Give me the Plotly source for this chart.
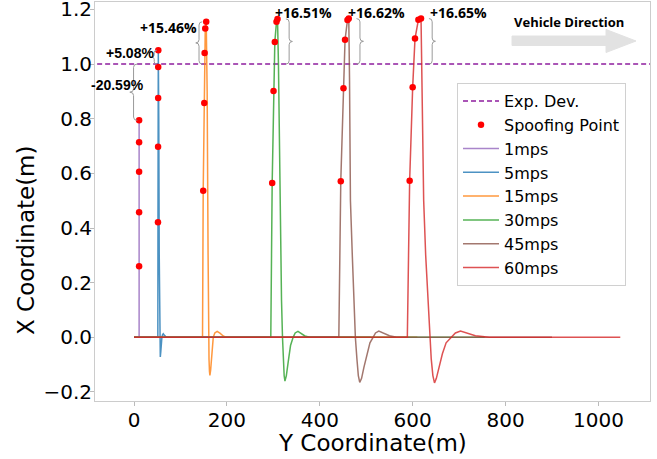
import plotly.graph_objects as go

# ---------------- data ----------------
labels = ["1mps", "5mps", "15mps", "30mps", "45mps", "60mps"]
colors = ["#9467bd", "#1f77b4", "#ff7f0e", "#2ca02c", "#8c564b", "#d62728"]

exp_dev_x = [-200, 1300]
exp_dev_y = [1.0, 1.0]

x_1mps = [0, 11, 11, 11, 11, 11, 11, 11, 470]
y_1mps = [0, 0, 0.260, 0.458, 0.606, 0.714, 0.7941, 0, 0]

x_5mps = [0, 51.3, 51.6, 51.8, 52.0, 52.1, 52.3, 53.3, 54.3, 55.0, 55.8, 56.6, 57.8, 59.0, 60.0, 61.5, 63.0, 65.0, 67.5, 70.0, 510]
y_5mps = [0, 0, 0.421, 0.697, 0.876, 0.989, 1.0508, 0.80, 0.30, 0.0, -0.05, -0.072, -0.05, -0.01, 0.0, 0.010, 0.013, 0.008, 0.002, 0, 0]

x_15mps = [0, 147.5, 149.0, 151.3, 152.0, 153.4, 155.5, 157.5, 159.5, 160.3, 161.5, 162.5, 163.4, 165.0, 167.0, 169.0, 170.6, 174.0, 179.0, 185.0, 192.0, 199.0, 610]
y_15mps = [0, 0, 0.536, 0.857, 1.04, 1.13, 1.1546, 0.90, 0.30, 0.0, -0.08, -0.125, -0.139, -0.12, -0.07, -0.02, 0.0, 0.016, 0.022, 0.015, 0.005, 0, 0]

x_30mps = [0, 294.5, 297.5, 300.4, 303.2, 306.8, 309.0, 311.0, 314.0, 317.6, 319.7, 321.5, 323.3, 325.0, 328.0, 332.0, 337.0, 342.6, 347.0, 353.0, 360.0, 368.0, 378.0, 755]
y_30mps = [0, 0, 0.565, 0.901, 1.081, 1.155, 1.1651, 1.0, 0.5, 0.135, 0.0, -0.08, -0.14, -0.160, -0.14, -0.09, -0.03, 0.0, 0.016, 0.022, 0.015, 0.005, 0, 0]

x_45mps = [0, 441.0, 445.2, 451.0, 454.4, 459.6, 462.4, 464.0, 466.0, 470.0, 473.0, 476.6, 480.0, 483.0, 486.0, 490.0, 495.0, 502.0, 508.0, 514.7, 520.0, 527.0, 537.0, 550.0, 565.0, 900]
y_45mps = [0, 0, 0.571, 0.911, 1.089, 1.161, 1.1662, 0.95, 0.5, 0.3, 0.135, 0.0, -0.08, -0.14, -0.165, -0.15, -0.11, -0.06, -0.02, 0.0, 0.016, 0.023, 0.016, 0.006, 0, 0]

x_60mps = [0, 588.5, 593.5, 600.0, 605.0, 612.3, 618.0, 620.0, 623.7, 628.0, 633.0, 636.6, 640.0, 643.5, 647.0, 651.0, 657.0, 664.0, 672.0, 683.0, 692.0, 703.0, 716.0, 735.0, 765.0, 1047]
y_60mps = [0, 0, 0.573, 0.915, 1.093, 1.162, 1.1665, 0.95, 0.5, 0.3, 0.135, 0.0, -0.08, -0.14, -0.167, -0.15, -0.11, -0.06, -0.02, 0.0, 0.016, 0.023, 0.016, 0.006, 0, 0]

spoof_x = [11, 11, 11, 11, 11,
           51.6, 51.8, 52.0, 52.1, 52.3,
           149.0, 151.3, 152.0, 153.4, 155.5,
           297.5, 300.4, 303.2, 306.8, 309.0,
           445.2, 451.0, 454.4, 459.6, 462.4,
           593.5, 600.0, 605.0, 612.3, 618.0]
spoof_y = [0.260, 0.458, 0.606, 0.714, 0.7941,
           0.421, 0.697, 0.876, 0.989, 1.0508,
           0.536, 0.857, 1.04, 1.13, 1.1546,
           0.565, 0.901, 1.081, 1.155, 1.1651,
           0.571, 0.911, 1.089, 1.161, 1.1662,
           0.573, 0.915, 1.093, 1.162, 1.1665]

series_x = [x_1mps, x_5mps, x_15mps, x_30mps, x_45mps, x_60mps]
series_y = [y_1mps, y_5mps, y_15mps, y_30mps, y_45mps, y_60mps]

x_ticks = [0, 200, 400, 600, 800, 1000]
y_ticks = [-0.2, 0.0, 0.2, 0.4, 0.6, 0.8, 1.0, 1.2]

# ---------------- style / layout positions ----------------
brace_pos = [(7, -9), (49, 38), (147, 133), (327, 341), (479, 494), (635, 649)]
label_pos = [(-36, 0.922), (-8, 1.040), (74, 1.134), (365, 1.190), (523, 1.190), (698, 1.190)]

TOP, BOT, LEFT, RIGHT = 2, 58, 95, 7
PLOT_W = 657 - LEFT - RIGHT
PLOT_H = 459 - TOP - BOT

fig = go.Figure()

fig.add_trace(go.Scatter(
    x=exp_dev_x, y=exp_dev_y, mode="lines", name="Exp. Dev.",
    line=dict(color="#8e1e9e", width=1.5, dash="5px,3px"), legendrank=1))

for i, (lab, col) in enumerate(zip(labels, colors)):
    fig.add_trace(go.Scatter(
        x=series_x[i], y=series_y[i], mode="lines", name=lab,
        line=dict(color=col, width=1.5), opacity=0.8, legendrank=3 + i))

fig.add_trace(go.Scatter(
    x=spoof_x, y=spoof_y, mode="markers", name="Spoofing Point",
    marker=dict(color="#ff0000", size=6.5), legendrank=2))

shapes = []
annotations = []
for i in range(len(labels)):
    peak = max(series_y[i])
    y0, y1 = exp_dev_y[0], peak
    lo, hi = min(y0, y1), max(y0, y1)
    hx, tx = brace_pos[i]
    xm = (hx + tx) / 2
    ym = (lo + hi) / 2
    d = min(0.012, (hi - lo) / 6)
    path = (f"M {hx},{hi} Q {xm},{hi} {xm},{hi - d} L {xm},{ym + d} "
            f"Q {xm},{ym} {tx},{ym} Q {xm},{ym} {xm},{ym - d} "
            f"L {xm},{lo + d} Q {xm},{lo} {hx},{lo}")
    shapes.append(dict(type="path", path=path, xref="x", yref="y",
                       line=dict(color="#9a9a9a", width=1)))
    pct = (peak - exp_dev_y[0]) * 100
    txt = f"<b>{pct:+.2f}%</b>"
    if i < 2:
        font = dict(family="Liberation Sans Narrow, Liberation Sans, Arial", size=14, color="black")
    else:
        font = dict(family="Open Sans, Liberation Sans, Arial", size=14, color="black")
    annotations.append(dict(x=label_pos[i][0], y=label_pos[i][1], xref="x", yref="y",
                            xanchor="center", yanchor="middle",
                            text=txt, showarrow=False, font=font))


def px2paper(px, py):
    return (px - LEFT) / PLOT_W, 1 - (py - TOP) / PLOT_H


# Vehicle direction arrow
pts = [(512, 36), (606, 36), (606, 29.5), (636, 41), (606, 52.5), (606, 45.5), (512, 45.5)]
pp = [px2paper(a, b) for a, b in pts]
arrow_path = "M " + " L ".join(f"{a},{b}" for a, b in pp) + " Z"
shapes.append(dict(type="path", path=arrow_path, xref="paper", yref="paper",
                   fillcolor="#e2e2e2", line=dict(color="#e2e2e2", width=1)))
vx, vy = px2paper(568.5, 22.5)
annotations.append(dict(x=vx, y=vy, xref="paper", yref="paper", showarrow=False,
                        xanchor="center", yanchor="middle",
                        text="<b>Vehicle Direction</b>",
                        font=dict(family="Open Sans, Liberation Sans, Arial", size=13, color="black")))

# axis titles
tx_, ty_ = px2paper(372, 443)
annotations.append(dict(x=tx_, y=ty_, xref="paper", yref="paper", showarrow=False,
                        text="Y Coordinate(m)", xanchor="center", yanchor="middle",
                        font=dict(family="DejaVu Sans", size=23, color="black")))
tx2, ty2 = px2paper(26, 240)
annotations.append(dict(x=tx2, y=ty2, xref="paper", yref="paper", showarrow=False,
                        text="X Coordinate(m)", textangle=-90, xanchor="center", yanchor="middle",
                        font=dict(family="DejaVu Sans", size=23, color="black")))

fig.update_layout(
    width=657, height=459,
    margin=dict(l=LEFT, r=RIGHT, t=TOP, b=BOT, autoexpand=False),
    plot_bgcolor="white", paper_bgcolor="white",
    font=dict(family="DejaVu Sans", color="black"),
    shapes=shapes, annotations=annotations,
    showlegend=True,
    legend=dict(x=px2paper(457, 83)[0], y=px2paper(457, 83)[1], xanchor="left", yanchor="top",
                bgcolor="white", bordercolor="#d0d0d0", borderwidth=1,
                font=dict(family="DejaVu Sans", size=16, color="black"),
                itemwidth=36),
)
fig.update_xaxes(range=[-84, 1111], tickvals=x_ticks, ticks="outside", ticklen=4,
                 tickcolor="#bbbbbb", showline=True, linecolor="#cccccc", mirror=True,
                 showgrid=False, zeroline=False, ticklabelstandoff=-3, automargin=False,
                 tickfont=dict(family="DejaVu Sans", size=20, color="black"))
fig.update_yaxes(range=[-0.233, 1.227], tickvals=y_ticks, tickformat=".1f", ticks="outside",
                 ticklen=4, tickcolor="#bbbbbb", showline=True, linecolor="#cccccc", mirror=True,
                 showgrid=False, zeroline=False, ticklabelstandoff=-6, automargin=False,
                 ticklabeloverflow="allow",
                 tickfont=dict(family="DejaVu Sans", size=20, color="black"))

fig.write_html("out.html")
